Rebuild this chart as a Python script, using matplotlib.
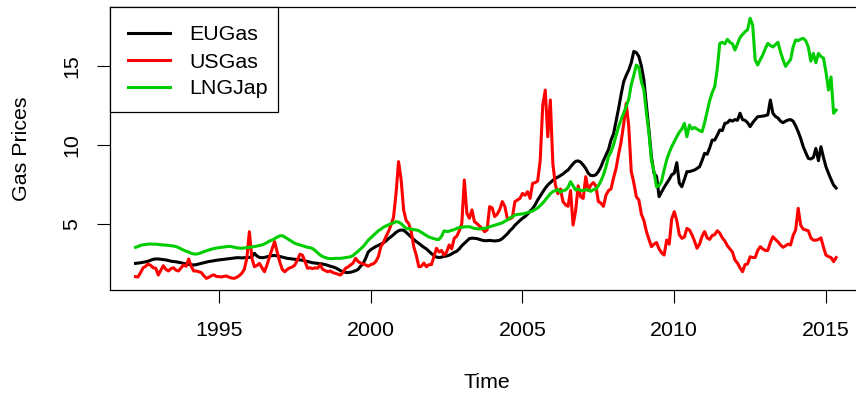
import numpy as np
import matplotlib
matplotlib.use("Agg")
import matplotlib.pyplot as plt
from matplotlib.patches import Rectangle
from matplotlib.lines import Line2D

plt.rcParams['font.family'] = ['Liberation Sans', 'DejaVu Sans']

# Monthly series, April 1992 .. May 2015
start_year = 1992.25
freq = 12

eu_gas = [
    2.48, 2.50, 2.52, 2.55, 2.58, 2.62, 2.68, 2.74, 2.76,                     # 1992
    2.76, 2.74, 2.72, 2.70, 2.66, 2.62, 2.60, 2.58, 2.55, 2.52, 2.48, 2.45,   # 1993
    2.42, 2.40, 2.38, 2.40, 2.44, 2.48, 2.52, 2.56, 2.60, 2.62, 2.65, 2.68,   # 1994
    2.70, 2.72, 2.74, 2.76, 2.78, 2.80, 2.82, 2.84, 2.84, 2.83, 2.84, 2.85,   # 1995
    2.86, 2.90, 3.12, 2.95, 2.86, 2.84, 2.86, 2.90, 2.94, 2.97, 2.98, 2.96,   # 1996
    2.92, 2.88, 2.84, 2.80, 2.78, 2.76, 2.74, 2.72, 2.70, 2.68, 2.64, 2.60,   # 1997
    2.56, 2.52, 2.50, 2.48, 2.46, 2.44, 2.40, 2.36, 2.30, 2.26, 2.20, 2.12,   # 1998
    2.02, 1.95, 1.91, 1.90, 1.92, 1.96, 2.02, 2.10, 2.30, 2.48, 2.80, 3.20,   # 1999
    3.35, 3.45, 3.55, 3.62, 3.70, 3.78, 3.90, 4.05, 4.17, 4.30, 4.45, 4.55,   # 2000
    4.60, 4.58, 4.45, 4.30, 4.15, 4.00, 3.86, 3.75, 3.62, 3.50, 3.40, 3.25,   # 2001
    3.10, 2.98, 2.88, 2.85, 2.88, 2.92, 2.95, 3.00, 3.08, 3.18, 3.25, 3.40,   # 2002
    3.60, 3.75, 3.90, 4.05, 4.08, 4.07, 4.05, 4.00, 3.95, 3.92, 3.92, 3.94,   # 2003
    3.92, 3.90, 3.92, 3.95, 4.05, 4.20, 4.35, 4.55, 4.70, 4.90, 5.05, 5.20,   # 2004
    5.34, 5.45, 5.60, 5.80, 5.95, 6.20, 6.50, 6.75, 7.00, 7.25, 7.45, 7.60,   # 2005
    7.75, 7.87, 7.95, 8.05, 8.15, 8.29, 8.40, 8.60, 8.80, 8.95, 8.98, 8.90,   # 2006
    8.72, 8.50, 8.20, 8.05, 8.04, 8.10, 8.30, 8.60, 9.00, 9.35, 9.70, 10.30,  # 2007
    10.70, 11.50, 12.31, 13.20, 14.00, 14.40, 14.74, 15.20, 15.92, 15.85, 15.60, 15.00,  # 2008
    14.10, 12.50, 10.90, 9.20, 8.20, 8.00, 6.71, 7.00, 7.30, 7.56, 7.80, 8.10,  # 2009
    8.20, 8.87, 7.56, 7.34, 7.80, 8.30, 8.30, 8.35, 8.40, 8.50, 8.61, 9.00,     # 2010
    9.46, 9.40, 9.80, 10.30, 10.30, 10.60, 10.94, 10.90, 11.36, 11.40, 11.57, 11.50,  # 2011
    11.60, 11.55, 12.00, 11.60, 11.55, 11.40, 11.15, 11.40, 11.60, 11.78, 11.80, 11.82,  # 2012
    11.85, 11.90, 12.84, 12.00, 11.80, 11.70, 11.50, 11.40, 11.50, 11.57, 11.60, 11.50,  # 2013
    11.20, 10.83, 10.40, 9.88, 9.50, 9.14, 9.10, 9.20, 9.77, 8.99, 9.88, 9.20,  # 2014
    8.60, 8.19, 7.80, 7.45, 7.26,                                              # 2015
]

us_gas = [
    1.64, 1.62, 1.90, 2.20, 2.30, 2.44, 2.35, 2.20, 2.17,                     # 1992
    1.74, 2.05, 2.33, 2.10, 2.00, 2.15, 2.20, 2.05, 2.00, 2.20, 2.38, 2.30,   # 1993
    2.76, 2.30, 2.00, 2.00, 1.95, 1.90, 1.70, 1.53, 1.60, 1.70, 1.75, 1.65,   # 1994
    1.64, 1.62, 1.66, 1.68, 1.60, 1.55, 1.53, 1.60, 1.70, 1.85, 2.10, 2.80,   # 1995
    4.49, 2.80, 2.27, 2.35, 2.48, 2.20, 1.95, 2.40, 2.91, 3.40, 3.86, 3.20,   # 1996
    2.59, 2.10, 1.95, 2.10, 2.20, 2.25, 2.38, 2.70, 3.06, 3.00, 2.60, 2.17,   # 1997
    2.20, 2.15, 2.20, 2.17, 2.40, 2.10, 2.02, 1.95, 2.00, 1.90, 1.85, 1.80,   # 1998
    1.74, 1.90, 2.17, 2.25, 2.38, 2.50, 2.80, 2.60, 2.50, 2.45, 2.38, 2.30,   # 1999
    2.40, 2.45, 2.60, 2.90, 3.54, 3.80, 4.17, 4.50, 4.91, 5.40, 6.92, 8.93,   # 2000
    7.80, 5.87, 5.20, 5.00, 4.50, 3.54, 3.00, 2.27, 2.30, 2.50, 2.27, 2.40,   # 2001
    2.40, 2.91, 3.44, 3.20, 3.30, 3.00, 3.20, 3.65, 3.40, 4.07, 4.20, 4.55,   # 2002
    5.00, 7.77, 5.66, 5.34, 5.87, 5.13, 5.00, 4.85, 4.70, 4.49, 4.60, 6.08,   # 2003
    6.00, 5.45, 5.60, 5.90, 6.40, 6.10, 5.34, 5.30, 5.40, 6.40, 6.50, 6.60,   # 2004
    6.92, 6.80, 7.03, 6.60, 7.56, 7.60, 7.70, 9.00, 12.50, 13.47, 10.51, 12.84,  # 2005
    8.80, 7.45, 6.90, 7.20, 6.40, 6.20, 6.10, 7.10, 4.91, 5.80, 7.40, 6.70,   # 2006
    6.60, 7.98, 7.10, 7.45, 7.60, 7.40, 6.40, 6.30, 6.10, 6.80, 7.10, 7.20,   # 2007
    7.90, 8.51, 9.40, 10.20, 11.30, 12.63, 11.20, 8.30, 7.60, 6.71, 6.50, 5.60,  # 2008
    5.20, 4.50, 4.00, 3.54, 3.70, 3.80, 3.40, 3.15, 3.01, 3.96, 3.70, 5.30,   # 2009
    5.76, 5.20, 4.30, 4.07, 4.15, 4.70, 4.60, 4.30, 3.90, 3.44, 3.70, 4.20,   # 2010
    4.50, 4.10, 4.00, 4.25, 4.30, 4.55, 4.40, 4.10, 3.90, 3.60, 3.40, 3.20,   # 2011
    2.70, 2.50, 2.20, 1.95, 2.40, 2.45, 2.90, 2.85, 2.85, 3.30, 3.54, 3.40,   # 2012
    3.30, 3.30, 3.80, 4.17, 4.00, 3.85, 3.65, 3.50, 3.60, 3.70, 3.65, 4.25,   # 2013
    4.60, 5.97, 4.90, 4.65, 4.60, 4.55, 4.10, 3.95, 3.95, 4.00, 4.10, 3.50,   # 2014
    3.00, 2.91, 2.85, 2.59, 2.85,                                              # 2015
]

lng_jap = [
    3.50, 3.55, 3.62, 3.66, 3.68, 3.70, 3.71, 3.70, 3.70,                     # 1992
    3.68, 3.66, 3.65, 3.64, 3.62, 3.60, 3.58, 3.55, 3.48, 3.40, 3.32, 3.25,   # 1993
    3.20, 3.12, 3.08, 3.07, 3.10, 3.16, 3.22, 3.28, 3.33, 3.38, 3.42, 3.45,   # 1994
    3.48, 3.50, 3.52, 3.54, 3.56, 3.54, 3.50, 3.47, 3.45, 3.44, 3.46, 3.48,   # 1995
    3.50, 3.52, 3.55, 3.58, 3.62, 3.65, 3.72, 3.80, 3.90, 3.96, 4.05, 4.15,   # 1996
    4.22, 4.24, 4.15, 4.05, 3.95, 3.85, 3.75, 3.70, 3.65, 3.60, 3.55, 3.50,   # 1997
    3.48, 3.42, 3.30, 3.15, 3.01, 2.91, 2.85, 2.80, 2.78, 2.78, 2.80, 2.80,   # 1998
    2.80, 2.82, 2.85, 2.87, 2.90, 2.98, 3.12, 3.25, 3.40, 3.54, 3.75, 3.95,   # 1999
    4.10, 4.25, 4.40, 4.55, 4.65, 4.77, 4.85, 4.92, 5.00, 5.05, 5.13, 5.10,   # 2000
    5.00, 4.85, 4.70, 4.68, 4.65, 4.62, 4.60, 4.55, 4.45, 4.35, 4.25, 4.15,   # 2001
    4.10, 4.05, 4.00, 4.00, 4.20, 4.55, 4.50, 4.52, 4.58, 4.62, 4.70, 4.75,   # 2002
    4.77, 4.80, 4.80, 4.81, 4.75, 4.70, 4.68, 4.66, 4.68, 4.70, 4.75, 4.80,   # 2003
    4.85, 4.90, 4.95, 5.00, 5.05, 5.15, 5.23, 5.35, 5.45, 5.55, 5.58, 5.60,   # 2004
    5.62, 5.65, 5.70, 5.75, 5.80, 5.90, 6.00, 6.15, 6.30, 6.50, 6.70, 6.90,   # 2005
    7.03, 7.10, 7.15, 7.00, 7.10, 7.13, 7.30, 7.66, 7.40, 7.13, 7.20, 7.10,   # 2006
    7.10, 7.15, 7.13, 7.05, 7.15, 7.20, 7.40, 7.70, 8.09, 8.60, 9.24, 9.56,   # 2007
    10.00, 10.60, 11.15, 11.60, 12.00, 12.42, 12.90, 13.80, 14.40, 15.06, 14.90, 14.00,  # 2008
    13.47, 12.00, 10.73, 9.00, 8.29, 7.34, 7.40, 7.70, 8.40, 9.04, 9.50, 9.88,   # 2009
    10.20, 10.51, 10.80, 11.00, 11.36, 10.51, 11.25, 11.00, 11.10, 11.00, 10.90, 10.83,  # 2010
    11.40, 12.10, 12.80, 13.30, 13.69, 14.80, 16.43, 16.50, 16.40, 16.69, 16.50, 16.40,  # 2011
    16.01, 16.40, 16.80, 17.00, 17.17, 17.30, 18.02, 17.60, 15.38, 15.06, 15.40, 15.70,  # 2012
    16.10, 16.43, 16.30, 16.20, 16.35, 16.50, 15.90, 15.40, 14.97, 15.20, 15.40, 16.20,  # 2013
    16.65, 16.60, 16.70, 16.75, 16.60, 16.20, 15.30, 15.80, 15.20, 15.80, 15.60, 15.50,  # 2014
    14.60, 13.47, 14.30, 12.00, 12.20,                                         # 2015
]

series_names = ["EUGas", "USGas", "LNGJap"]
series_colors = ["black", "#FF0000", "#00CD00"]
x_ticks = [1995, 2000, 2005, 2010, 2015]
y_ticks = [5, 10, 15]

n = len(eu_gas)
t = start_year + np.arange(n) / freq

W, H = 856, 398
fig = plt.figure(figsize=(W / 100, H / 100), dpi=100)
fig.patch.set_facecolor("white")


def px(x, y):
    """Pixel position measured from the top-left corner -> figure fraction."""
    return x / W, 1 - y / H


# plot region in pixels: left 110, right 864, top 7, bottom 290
ax = fig.add_axes([110 / W, (H - 290) / H, (864 - 110) / W, (290 - 7) / H])

lw = 2.2
for vals, name, col in zip([eu_gas, us_gas, lng_jap], series_names, series_colors):
    ax.plot(t, vals, color=col, lw=lw, label=name, solid_joinstyle="round")

ax.set_xlim(1995 - 109 / 30.35, 1995 + 645 / 30.35)
ax.set_ylim((302.5 - 290) / 15.77, (302.5 - 7) / 15.77)

ax.set_xticks(x_ticks)
ax.set_yticks(y_ticks)
fs = 15.4
ax.tick_params(axis="both", direction="out", length=9.4, width=0.8,
               labelsize=fs, color="black")
ax.tick_params(axis="x", pad=13)
ax.tick_params(axis="y", pad=11)
for lbl in ax.get_yticklabels():
    lbl.set_rotation(90)
    lbl.set_va("center")

for sp in ax.spines.values():
    sp.set_linewidth(0.9)
    sp.set_color("black")

ax.set_xlabel("Time", fontsize=fs, labelpad=24)
ax.set_ylabel("Gas Prices", fontsize=fs, labelpad=23)

# legend box in the top-left corner of the plot region
x0, y0, x1, y1 = px(110, 112)[0], px(110, 112)[1], px(278, 7)[0], px(278, 7)[1]
fig.add_artist(Rectangle((x0, y0), x1 - x0, y1 - y0, transform=fig.transFigure,
                         facecolor="white", edgecolor="black", lw=0.9, zorder=5))
for i, (name, col) in enumerate(zip(series_names, series_colors)):
    yy = 33 + 27 * i
    (lx0, ly), (lx1, _) = px(128, yy), px(170, yy)
    fig.add_artist(Line2D([lx0, lx1], [ly, ly], transform=fig.transFigure,
                          color=col, lw=lw, zorder=6))
    tx, ty = px(189, yy)
    fig.text(tx, ty, name, fontsize=fs, ha="left", va="center_baseline",
             zorder=6)

fig.savefig("out.png", dpi=100, facecolor="white")
